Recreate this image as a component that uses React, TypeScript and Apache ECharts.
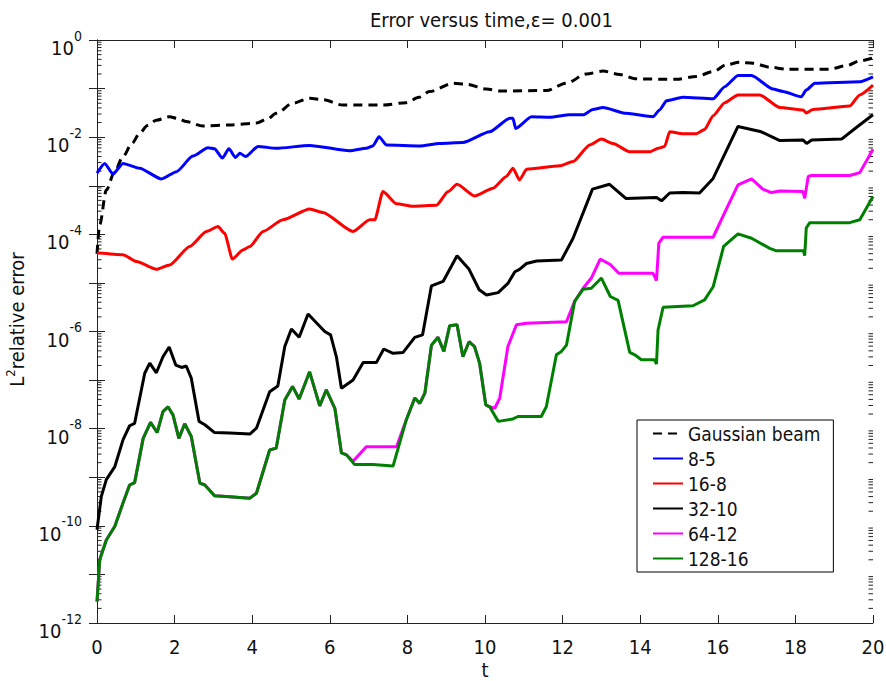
import React, { useEffect, useRef } from 'react';
import * as echarts from 'echarts';

const FONT = '"DejaVu Sans Condensed", "DejaVu Sans", sans-serif';

// [t, log10(L2 relative error)]
const gaussianBeam: [number, number][] = [
  [0, -4.4], [0.07, -3.8], [0.24, -3.09], [0.45, -2.72], [0.67, -2.4], [0.9, -2.13], [1.1, -1.92],
  [1.3, -1.76], [1.53, -1.65], [1.87, -1.58], [2.1, -1.62], [2.3, -1.68], [2.73, -1.77], [3.42, -1.75],
  [4.11, -1.71], [4.4, -1.62], [4.62, -1.51], [5.05, -1.3], [5.48, -1.2], [5.83, -1.23], [6.34, -1.34],
  [7.37, -1.34], [7.97, -1.29], [8.3, -1.18], [8.57, -1.06], [9.18, -0.89], [9.52, -0.91], [10.04, -1.01],
  [10.38, -1.05], [11.58, -1.04], [12.1, -0.89], [12.61, -0.7], [13.04, -0.64], [13.47, -0.71],
  [13.9, -0.8], [14.93, -0.81], [15.45, -0.75], [15.88, -0.65], [16.22, -0.51], [16.56, -0.46],
  [16.91, -0.48], [17.34, -0.56], [17.77, -0.6], [18.88, -0.6], [19.31, -0.53], [19.66, -0.43], [20, -0.37],
];

const res8_5: [number, number][] = [
  [0, -2.74], [0.2, -2.54], [0.41, -2.76], [0.67, -2.54], [1.1, -2.64], [1.66, -2.86], [2.05, -2.71],
  [2.47, -2.39], [2.86, -2.22], [3.03, -2.24], [3.23, -2.43], [3.4, -2.24], [3.57, -2.42], [3.68, -2.33],
  [3.83, -2.4], [4.15, -2.19], [4.62, -2.23], [5.48, -2.17], [6.51, -2.28], [6.94, -2.23], [7.11, -2.18],
  [7.27, -1.99], [7.46, -2.16], [8.32, -2.18], [8.83, -2.13], [9.43, -2.11], [10.12, -1.89], [10.64, -1.61],
  [10.72, -1.61], [10.79, -1.82], [11.2, -1.58], [11.67, -1.59], [12.18, -1.54], [12.53, -1.54],
  [12.78, -1.43], [13.04, -1.39], [13.64, -1.51], [14.33, -1.58], [14.5, -1.44], [14.68, -1.25],
  [15.1, -1.18], [15.88, -1.21], [16.18, -0.96], [16.52, -0.73], [16.87, -0.73], [17.42, -1.01],
  [17.68, -1.06], [18.15, -1.17], [18.28, -1.03], [18.5, -0.89], [19.66, -0.86], [20, -0.76],
];

const res16_8: [number, number][] = [
  [0, -4.38], [0.67, -4.42], [1.02, -4.56], [1.53, -4.72], [1.87, -4.63], [2.39, -4.25], [2.82, -3.94],
  [3.12, -3.84], [3.29, -3.98], [3.49, -4.51], [3.76, -4.32], [3.94, -4.25], [4.28, -3.94], [4.79, -3.7],
  [5.48, -3.48], [5.82, -3.55], [6.6, -3.94], [7.03, -3.7], [7.16, -3.7], [7.37, -3.12], [7.72, -3.37],
  [8.14, -3.42], [8.75, -3.4], [9.05, -3.12], [9.28, -2.97], [9.73, -3.21], [10.21, -3.05], [10.55, -2.81],
  [10.72, -2.64], [10.89, -2.88], [11.07, -2.66], [11.93, -2.59], [12.27, -2.5], [12.7, -2.16],
  [13.0, -2.04], [13.3, -2.13], [13.73, -2.3], [14.25, -2.3], [14.46, -2.23], [14.63, -2.19],
  [14.76, -1.89], [15.1, -1.93], [15.45, -1.93], [15.66, -1.84], [15.88, -1.56], [16.18, -1.29],
  [16.52, -1.13], [17.08, -1.13], [17.6, -1.39], [18.2, -1.44], [18.28, -1.5], [18.45, -1.43],
  [19.4, -1.36], [19.66, -1.13], [20, -0.93],
];

const res32_10: [number, number][] = [
  [0, -10.08], [0.11, -9.4], [0.24, -9.05], [0.46, -8.78], [0.67, -8.23], [0.84, -7.94], [0.97, -7.89],
  [1.23, -6.86], [1.36, -6.65], [1.53, -6.85], [1.7, -6.52], [1.86, -6.32], [2.03, -6.69], [2.18, -6.74],
  [2.3, -6.71], [2.43, -6.96], [2.63, -7.85], [2.78, -7.92], [3.03, -8.08], [3.42, -8.09], [3.94, -8.11],
  [4.11, -7.99], [4.45, -7.24], [4.66, -7.12], [4.84, -6.31], [5.01, -5.95], [5.21, -6.12], [5.44, -5.64],
  [5.87, -6.0], [6.02, -6.07], [6.17, -6.52], [6.3, -7.17], [6.6, -7.0], [6.86, -6.64], [7.2, -6.64],
  [7.39, -6.36], [7.63, -6.45], [7.89, -6.43], [8.19, -6.12], [8.39, -6.07], [8.62, -5.06], [8.92, -4.97],
  [9.28, -4.44], [9.59, -4.72], [9.85, -5.14], [10.04, -5.25], [10.34, -5.2], [10.59, -5.01],
  [10.77, -4.77], [10.89, -4.72], [11.07, -4.6], [11.33, -4.55], [11.97, -4.53], [12.27, -4.08],
  [12.77, -3.07], [13.21, -2.97], [13.63, -3.26], [14.42, -3.24], [14.55, -3.31], [14.76, -3.15],
  [15.1, -3.14], [15.53, -3.15], [15.88, -2.85], [16.52, -1.78], [17.12, -1.89], [17.6, -2.07],
  [18.2, -2.06], [18.29, -2.13], [18.42, -2.06], [19.19, -2.04], [19.57, -1.8], [20, -1.54],
];

const res64_12: [number, number][] = [
  [0, -11.56], [0.07, -10.7], [0.24, -10.29], [0.46, -10.01], [0.67, -9.53], [0.84, -9.16], [0.97, -9.11],
  [1.19, -8.2], [1.38, -7.87], [1.55, -8.08], [1.7, -7.65], [1.83, -7.55], [1.96, -7.72], [2.11, -8.2],
  [2.26, -7.9], [2.43, -8.16], [2.65, -9.12], [2.78, -9.16], [3.03, -9.38], [3.42, -9.4], [3.94, -9.43],
  [4.11, -9.33], [4.45, -8.44], [4.62, -8.4], [4.84, -7.41], [5.04, -7.13], [5.21, -7.39], [5.48, -6.83],
  [5.74, -7.53], [5.91, -7.2], [6.13, -7.58], [6.3, -8.5], [6.43, -8.54], [6.6, -8.67], [6.94, -8.37],
  [7.72, -8.37], [7.97, -7.82], [8.19, -7.37], [8.32, -7.48], [8.45, -7.27], [8.62, -6.28], [8.79, -6.12],
  [8.94, -6.41], [9.09, -5.88], [9.28, -5.86], [9.43, -6.52], [9.59, -6.21], [9.73, -6.31], [9.86, -6.65],
  [10.02, -7.51], [10.12, -7.55], [10.25, -7.58], [10.38, -7.37], [10.59, -6.31], [10.81, -5.86],
  [11.07, -5.83], [12.1, -5.8], [12.31, -5.38], [12.53, -5.11], [12.74, -4.9], [12.97, -4.51],
  [13.23, -4.62], [13.45, -4.8], [14.33, -4.8], [14.42, -4.95], [14.48, -4.18], [14.59, -4.06],
  [15.88, -4.06], [16.18, -3.55], [16.52, -2.98], [16.87, -2.86], [17.16, -3.07], [17.38, -3.14],
  [17.6, -3.11], [18.2, -3.12], [18.24, -3.26], [18.33, -2.81], [18.41, -2.79], [19.4, -2.79],
  [19.66, -2.73], [20, -2.25],
];

const res128_16: [number, number][] = [
  [0, -11.56], [0.07, -10.7], [0.24, -10.29], [0.46, -10.01], [0.67, -9.53], [0.84, -9.16], [0.97, -9.11],
  [1.19, -8.2], [1.38, -7.87], [1.55, -8.08], [1.7, -7.65], [1.83, -7.55], [1.96, -7.72], [2.11, -8.2],
  [2.26, -7.9], [2.43, -8.16], [2.65, -9.12], [2.78, -9.16], [3.03, -9.38], [3.42, -9.4], [3.94, -9.43],
  [4.11, -9.33], [4.45, -8.44], [4.62, -8.4], [4.84, -7.41], [5.04, -7.13], [5.21, -7.39], [5.48, -6.83],
  [5.74, -7.53], [5.91, -7.2], [6.13, -7.58], [6.3, -8.5], [6.43, -8.54], [6.64, -8.74], [7.11, -8.74],
  [7.63, -8.77], [7.97, -7.82], [8.19, -7.37], [8.32, -7.48], [8.45, -7.27], [8.62, -6.28], [8.79, -6.12],
  [8.94, -6.41], [9.09, -5.88], [9.28, -5.86], [9.43, -6.52], [9.59, -6.21], [9.73, -6.31], [9.86, -6.65],
  [10.02, -7.51], [10.12, -7.55], [10.34, -7.85], [10.72, -7.8], [10.85, -7.75], [11.45, -7.75],
  [11.58, -7.55], [11.84, -6.48], [11.97, -6.41], [12.1, -6.28], [12.31, -5.38], [12.53, -5.13],
  [12.74, -5.11], [13.0, -4.9], [13.23, -5.28], [13.43, -5.36], [13.73, -6.43], [13.86, -6.48],
  [14.03, -6.58], [14.37, -6.58], [14.42, -6.67], [14.46, -5.97], [14.59, -5.5], [15.36, -5.47],
  [15.66, -5.35], [15.88, -5.08], [16.15, -4.25], [16.52, -3.99], [16.87, -4.08], [17.34, -4.29],
  [17.51, -4.34], [18.21, -4.34], [18.24, -4.44], [18.28, -3.87], [18.37, -3.76], [19.4, -3.76],
  [19.66, -3.7], [20, -3.22],
];

const seriesNames = ['Gaussian beam', '8-5', '16-8', '32-10', '64-12', '128-16'];
const seriesColors = ['#000000', '#0000ff', '#ff0000', '#000000', '#ff00ff', '#008000'];
const seriesRows = [gaussianBeam, res8_5, res16_8, res32_10, res64_12, res128_16];
const seriesSmooth = [0.3, 0.2, 0.2, 0, 0, 0];

const xTickInterval = 2;
const yMinExp = -12;
const yMaxExp = 0;

const toPoints = (rows: [number, number][]) => rows.map(([t, e]) => [t, Math.pow(10, e)]);

export default function App() {
  const ref = useRef<HTMLDivElement>(null);

  useEffect(() => {
    if (!ref.current) return;
    const chart = echarts.init(ref.current, null, { renderer: 'svg' });

    const minorTicks: number[][] = [];
    for (let e = yMinExp; e < yMaxExp; e++) {
      for (let k = 2; k <= 9; k++) minorTicks.push([0, k * Math.pow(10, e)]);
    }

    const axisColor = '#222';
    const labelRich = {
      b: { fontSize: 20, fontFamily: FONT, color: '#111', padding: [16, 0, 0, 0] },
      s: { fontSize: 14, fontFamily: FONT, color: '#111', padding: [0, 0, 9, 0] },
    };

    const lineSeries = seriesNames.map((name, i) => ({
      name,
      type: 'line',
      data: toPoints(seriesRows[i]),
      showSymbol: false,
      symbol: 'none',
      smooth: seriesSmooth[i] || false,
      smoothMonotone: 'x',
      xAxisIndex: 0,
      yAxisIndex: 0,
      color: seriesColors[i],
      lineStyle: {
        color: seriesColors[i],
        width: 3,
        type: i === 0 ? [9, 6] : 'solid',
      },
      z: 3 + i,
    }));

    chart.setOption({
      animation: false,
      backgroundColor: '#ffffff',
      title: {
        text: 'Error versus time,ε= 0.001',
        left: 365,
        top: 5,
        textStyle: { fontFamily: FONT, fontSize: 20, fontWeight: 'normal', color: '#111' },
      },
      grid: { left: 97, right: 13, top: 40, bottom: 58, containLabel: false, outerBoundsMode: 'none' },
      legend: {
        data: seriesNames,
        orient: 'vertical',
        left: 637,
        top: 420,
        padding: [4, 13, 4, 15],
        itemGap: 6,
        itemWidth: 30,
        itemHeight: 14,
        borderColor: '#000',
        borderWidth: 1,
        backgroundColor: '#fff',
        itemStyle: { opacity: 0 },
        textStyle: { fontFamily: FONT, fontSize: 19, color: '#111' },
      },
      xAxis: [
        {
          type: 'value',
          min: 0,
          max: 20,
          interval: xTickInterval,
          position: 'bottom',
          name: 't',
          nameLocation: 'middle',
          nameGap: 38,
          nameMoveOverlap: false,
          nameTextStyle: { fontFamily: FONT, fontSize: 20, color: '#111', lineHeight: 18 },
          axisLine: { show: true, lineStyle: { color: axisColor, width: 1 } },
          axisTick: { show: true, inside: true, length: 8, lineStyle: { color: axisColor } },
          axisLabel: { fontFamily: FONT, fontSize: 20, color: '#111', margin: 15, lineHeight: 18 },
          splitLine: { show: false },
        },
        {
          type: 'value',
          min: 0,
          max: 20,
          interval: xTickInterval,
          position: 'top',
          axisLine: { show: true, lineStyle: { color: axisColor, width: 1 } },
          axisTick: { show: true, inside: true, length: 8, lineStyle: { color: axisColor } },
          axisLabel: { show: false },
          splitLine: { show: false },
        },
      ],
      yAxis: [
        {
          type: 'log',
          logBase: 10,
          min: Math.pow(10, yMinExp),
          max: Math.pow(10, yMaxExp),
          interval: 1,
          position: 'left',
          name: '{n|L}{sup|2}{n|relative error}',
          nameLocation: 'middle',
          nameGap: 68,
          nameMoveOverlap: false,
          nameTextStyle: {
            padding: [0, 0, 0, 24],
            rich: {
              n: { fontFamily: FONT, fontSize: 20, color: '#111' },
              sup: { fontFamily: FONT, fontSize: 13, color: '#111', padding: [0, 0, 12, 0] },
            },
          },
          axisLine: { show: true, lineStyle: { color: axisColor, width: 1 } },
          axisTick: { show: true, inside: true, length: 8, lineStyle: { color: axisColor } },
          axisLabel: {
            margin: 15,
            formatter: (v: number) => {
              const e = Math.round(Math.log10(v));
              if (e % 2 !== 0) return '';
              return '{b|10}{s|' + e + '}';
            },
            rich: labelRich,
          },
          splitLine: { show: false },
        },
        {
          type: 'log',
          logBase: 10,
          min: Math.pow(10, yMinExp),
          max: Math.pow(10, yMaxExp),
          interval: 1,
          position: 'right',
          axisLine: { show: true, lineStyle: { color: axisColor, width: 1 } },
          axisTick: { show: true, inside: true, length: 8, lineStyle: { color: axisColor } },
          axisLabel: { show: false },
          splitLine: { show: false },
        },
      ],
      series: [
        {
          name: 'minorTicks',
          type: 'custom',
          xAxisIndex: 0,
          yAxisIndex: 0,
          silent: true,
          clip: false,
          z: 1,
          data: minorTicks,
          renderItem: (params: any, api: any) => {
            const v = api.value(1);
            const pL = api.coord([0, v]);
            const pR = api.coord([20, v]);
            return {
              type: 'group',
              children: [
                { type: 'line', shape: { x1: pL[0], y1: pL[1], x2: pL[0] + 4.5, y2: pL[1] }, style: { stroke: axisColor, lineWidth: 1 } },
                { type: 'line', shape: { x1: pR[0] - 4.5, y1: pR[1], x2: pR[0], y2: pR[1] }, style: { stroke: axisColor, lineWidth: 1 } },
              ],
            };
          },
        },
        ...lineSeries,
      ],
    });

    return () => chart.dispose();
  }, []);

  return (
    <div
      ref={ref}
      style={{ position: 'absolute', left: 0, top: 0, width: 886, height: 681, background: '#fff' }}
    />
  );
}
